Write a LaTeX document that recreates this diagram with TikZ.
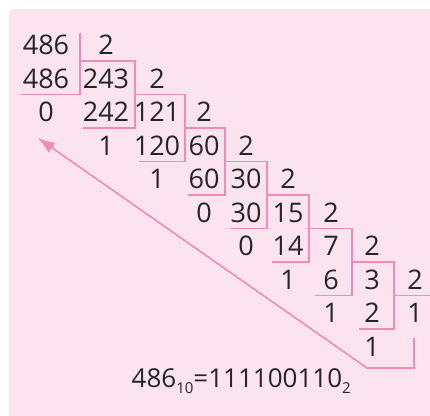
\documentclass[tikz,border=0pt]{standalone}
\usepackage{fontspec}
\setmainfont{Open Sans}
\usetikzlibrary{arrows.meta}
\definecolor{bgpink}{HTML}{FCE4EF}
\definecolor{linepink}{HTML}{F28BB8}
\definecolor{inkgray}{HTML}{262626}
\tikzset{
  numtext/.style={inner sep=0pt, text=inkgray, font=\fontsize{27}{30}\selectfont},
  divline/.style={draw=linepink, line width=1.6pt},
  backarrow/.style={draw=linepink, line width=1.6pt, -{Latex[length=17pt,width=12pt]}},
}
\begin{document}
\begin{tikzpicture}[x=1pt,y=-1pt]
\useasboundingbox (0,0) rectangle (430,415);
\begin{scope}
\clip (0,0) rectangle (430,415);
\fill[bgpink, rounded corners=5pt] (9,9) rectangle (460,445);
\end{scope}
% columns and rows
\def\colx{{46,106,157,204,246,288,331,372,415}}
\def\vx{{80,135,185,225,267,309,352,394,430}}
\def\lx{{20,83,139,188,230,272,315,359}}
% dividends / quotients
\foreach \v [count=\i from 0] in {486,243,121,60,30,15,7,3,1}{
  \pgfmathsetmacro\xx{\colx[\i]}
  \pgfmathsetmacro\yy{45+33.5*\i}
  \node[numtext] (n\i) at (\xx,\yy) {\v};
}
% divisors
\foreach \i in {0,...,7}{
  \pgfmathsetmacro\xx{\colx[\i+1]}
  \pgfmathsetmacro\yy{45+33.5*\i}
  \node[numtext] (t\i) at (\xx,\yy) {2};
}
% products
\foreach \v [count=\i from 0] in {486,242,120,60,30,14,6,2}{
  \pgfmathsetmacro\xx{\colx[\i]}
  \pgfmathsetmacro\yy{45+33.5*(\i+1)}
  \node[numtext] (p\i) at (\xx,\yy) {\v};
}
% remainders
\foreach \v [count=\i from 0] in {0,1,1,0,0,1,1,1}{
  \pgfmathsetmacro\xx{\colx[\i]}
  \pgfmathsetmacro\yy{45+33.5*(\i+2)}
  \node[numtext] (r\i) at (\xx,\yy) {\v};
}
% division lines
\draw[divline] (80,33) -- (80,94.5) -- (20,94.5);
\foreach \k in {1,...,7}{
  \pgfmathsetmacro\xa{\vx[\k-1]}
  \pgfmathsetmacro\xb{\vx[\k]}
  \pgfmathsetmacro\xl{\lx[\k]}
  \pgfmathsetmacro\ya{27.5+33.5*\k}
  \pgfmathsetmacro\yb{27.5+33.5*(\k+2)}
  \draw[divline] (\xa,\ya) -- (\xb,\ya) -- (\xb,\yb) -- (\xl,\yb);
}
\draw[divline] (394,295.5) -- (430,295.5);
% result
\node[numtext, anchor=base west, font=\fontsize{26}{30}\selectfont] (res) at (131.5,387)
  {486\raisebox{-6pt}{\fontsize{15}{15}\selectfont 10}=111100110\raisebox{-6pt}{\fontsize{15}{15}\selectfont 2}};
% arrow
\coordinate (astart) at (414,338);
\coordinate (aend) at (38,138);
\draw[backarrow] (astart) -- (414,368) -- (367,368) -- (aend);
\end{tikzpicture}
\end{document}
